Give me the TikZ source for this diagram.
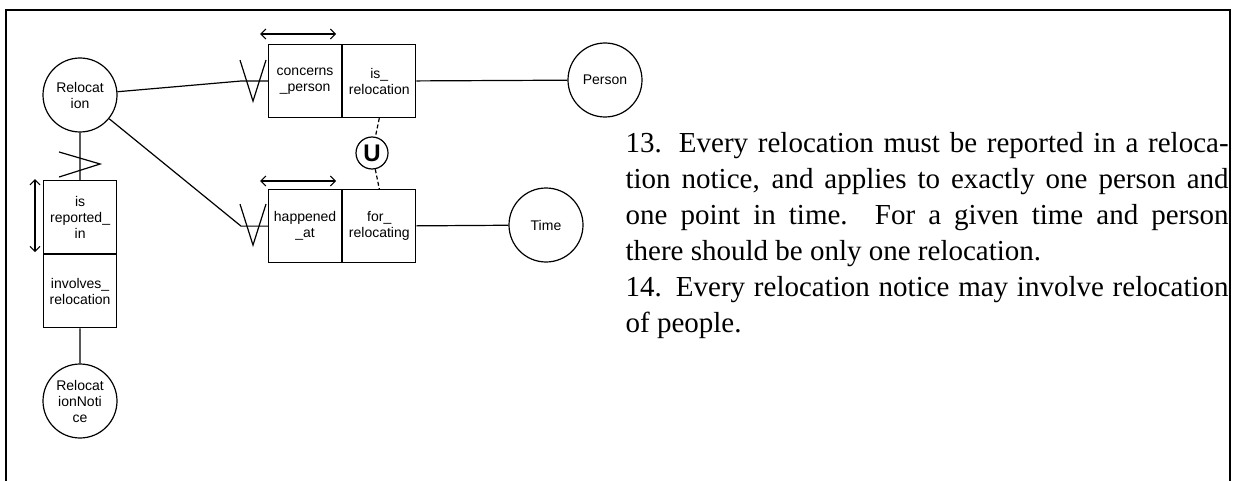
\documentclass[tikz,border=0pt]{standalone}
\usepackage{fontspec}
\setmainfont{Liberation Serif}
\setsansfont{Liberation Sans}
\usetikzlibrary{calc,arrows.meta,positioning}

\begin{document}
\begin{tikzpicture}[
    x=0.5pt, y=-0.5pt,
    >={Straight Barb[length=2.5pt,width=5pt]},
    line width=0.6pt,
    font=\sffamily\fontsize{7}{8}\selectfont,
    ent/.style={draw, circle, minimum size=37pt, inner sep=0pt, align=center},
    role/.style={draw, minimum width=36.5pt, minimum height=36.5pt, inner sep=0pt, align=center},
    ucirc/.style={draw, circle, minimum size=16pt, inner sep=0pt, font=\sffamily\bfseries\fontsize{12}{12}\selectfont},
    link/.style={dash pattern=on 2pt off 1.2pt}
]
\useasboundingbox (0,0) rectangle (1236,481);
\draw (6,481) -- (6,10) -- (1230,10) -- (1230,481);

% entity types
\node[ent] (rel) at (80,95) {Relocat\\ion};
\node[ent] (per) at (605,80) {Person};
\node[ent] (time) at (546,225) {Time};
\node[ent] (rn) at (80,401) {Relocat\\ionNoti\\ce};

% fact types
\node[role, anchor=north west] (cp) at (268,44) {concerns\\\_person};
\node[role, right=0pt of cp] (ir) {is\_\\relocation};
\node[role, anchor=north west] (ha) at (268,189) {happened\\\_at};
\node[role, right=0pt of ha] (fr) {for\_\\relocating};
\node[role, anchor=north west] (rp) at (43,180) {is\\reported\_\\in};
\node[role, below=0pt of rp] (ivr) {involves\_\\relocation};
\node[ucirc] (uc) at (372,153) {U};

% connectors
\coordinate (cpin) at ($(cp.west)+(-28,0)$);
\coordinate (hain) at ($(ha.west)+(-27,0)$);
\draw (rel) -- (cpin) -- (cp.west);
\draw (rel) -- (hain) -- (ha.west);
\draw (ir) -- (per);
\draw (fr) -- (time);
\draw (rel) -- (rp);
\draw (ivr) -- (rn);
\draw[link] (ir.south) -- (uc);
\draw[link] (uc) -- (fr.north);

% mandatory marks
\draw ($(cp.west)+(-28,-21)$) -- ++(13,41) -- ++(13,-41);
\draw ($(ha.west)+(-28,-22)$) -- ++(13,41) -- ++(13,-41);
\draw ($(rp.north)+(-21,-28)$) -- ++(41,12) -- ++(-41,13);

% uniqueness bars
\draw[<->] ($(cp.north west)+(-8,-10)$) -- ($(cp.north east)+(-6,-10)$);
\draw[<->] ($(ha.north west)+(-8,-8)$) -- ($(ha.north east)+(-6,-8)$);
\draw[<->] ($(rp.north west)+(-8,-1)$) -- ($(rp.south west)+(-8,-2)$);

% rules
\node[anchor=north west, inner sep=0pt, text width=301.5pt, align=justify,
      font=\rmfamily\fontsize{14.5}{18}\selectfont] (rules) at (625,132)
  {13. Every relocation must be reported in a reloca-\linebreak
   tion notice, and applies to exactly one person and\linebreak
   one point in time. For a given time and person\linebreak
   there should be only one relocation.\\
   14. Every relocation notice may involve relocation\linebreak
   of people.};
\end{tikzpicture}
\end{document}
